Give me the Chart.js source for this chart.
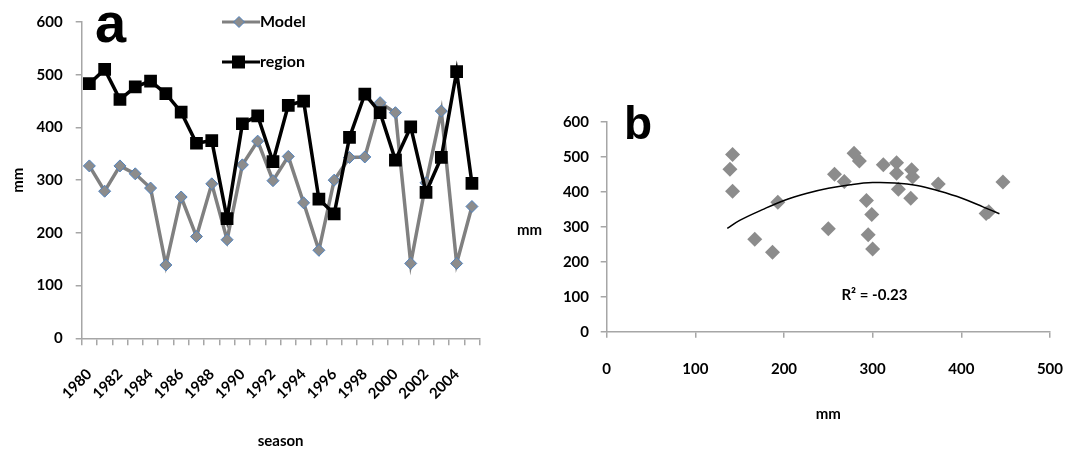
<!DOCTYPE html>
<html><head><meta charset="utf-8">
<script src="https://cdn.jsdelivr.net/npm/chart.js@4.4.1/dist/chart.umd.min.js"></script>
<style>
html,body{margin:0;padding:0;background:#fff;}
#wrap{position:relative;width:1085px;height:450px;overflow:hidden;}
#c1{position:absolute;left:0;top:0;}
#c2{position:absolute;left:505px;top:0;}
</style></head><body>
<div id="wrap"><canvas id="c1" width="505" height="450"></canvas><canvas id="c2" width="580" height="450"></canvas></div>
<script>
// ---- data ----
const years = ['1980','1981','1982','1983','1984','1985','1986','1987','1988','1989','1990','1991','1992','1993','1994','1995','1996','1997','1998','1999','2000','2001','2002','2003','2004','2005'];
const model = [327,279,327,312,285,139,268,193,293,187,329,374,299,345,257,167,300,343,344,447,428,142,295,431,142,250];
const region = [483,510,453,477,488,464,429,370,375,227,407,422,335,442,450,264,236,381,463,428,338,401,277,343,506,294];
const trendX = [136,150,175,200,225,250,275,300,325,350,375,400,425,443];
const trendY = [295,318,348,375,395,410,420,426,425,418,402,382,356,337];
const rSquaredText = 'R\u00B2 = -0.23';

const F = 'Lato, "Open Sans", "DejaVu Sans", sans-serif';
const AX = '#a6a6a6';
Chart.defaults.font.family = F;
Chart.defaults.color = '#000';

// ---- chart a ----
const leftDeco = {
  id: 'leftDeco',
  afterDraw(chart) {
    const ctx = chart.ctx;
    ctx.save();
    ctx.fillStyle = '#000';
    ctx.textAlign = 'left';
    ctx.textBaseline = 'alphabetic';
    ctx.font = 'bold 56px "Liberation Sans Narrow", "Liberation Sans", Arial, sans-serif';
    ctx.fillText('a', 95, 42);
    // legend
    const items = [
      {label: 'Model', y: 22, line: '#808080', fill: '#8c8c8c', stroke: '#4f81bd', style: 'diamond'},
      {label: 'region', y: 62, line: '#000', fill: '#000', stroke: '#000', style: 'square'}
    ];
    items.forEach(it => {
      ctx.strokeStyle = it.line;
      ctx.lineWidth = 3;
      ctx.beginPath();
      ctx.moveTo(222, it.y); ctx.lineTo(260, it.y);
      ctx.stroke();
      ctx.fillStyle = it.fill;
      ctx.strokeStyle = it.stroke;
      ctx.lineWidth = 1;
      ctx.beginPath();
      if (it.style === 'diamond') {
        const r = 5.5, cx = 239;
        ctx.moveTo(cx, it.y - r); ctx.lineTo(cx + r, it.y); ctx.lineTo(cx, it.y + r); ctx.lineTo(cx - r, it.y); ctx.closePath();
        ctx.fill(); ctx.stroke();
      } else {
        ctx.rect(232, it.y - 6.5, 13, 13);
        ctx.fill();
      }
      ctx.fillStyle = '#000';
      ctx.font = 'bold 16px ' + F;
      ctx.textBaseline = 'middle';
      ctx.fillText(it.label, 260, it.y);
      ctx.textBaseline = 'alphabetic';
    });
    ctx.restore();
  }
};

new Chart(document.getElementById('c1'), {
  type: 'line',
  data: {
    labels: years,
    datasets: [
      {label: 'Model', data: model, borderColor: '#808080', borderWidth: 3.5,
       pointStyle: 'rectRot', pointRadius: 6, pointBackgroundColor: '#8c8c8c',
       pointBorderColor: '#4f81bd', pointBorderWidth: 1, tension: 0, order: 1},
      {label: 'region', data: region, borderColor: '#000', borderWidth: 3.5,
       pointStyle: 'rect', pointRadius: 9, pointBackgroundColor: '#000',
       pointBorderColor: '#000', pointBorderWidth: 0, tension: 0, order: 0}
    ]
  },
  options: {
    responsive: false, animation: false,
    layout: {padding: {top: 20, right: 17.7, bottom: 0, left: 0}},
    plugins: {legend: {display: false}, tooltip: {enabled: false}},
    scales: {
      x: {
        offset: true,
        grid: {offset: true, drawOnChartArea: false, tickLength: 7, color: AX, lineWidth: 1.5},
        border: {color: AX, width: 1.5},
        ticks: {autoSkip: false, maxRotation: 45, minRotation: 45, padding: 20,
                font: {size: 15, weight: 'bold'}, color: '#000',
                callback: (v, i) => (i % 2 === 0 ? years[i] : '')},
        title: {display: true, text: 'season', font: {size: 15, weight: 'bold'}, color: '#000', padding: {top: 0, bottom: 0}},
        afterFit(s) { s.height = 111.7; }
      },
      y: {
        min: 0, max: 600,
        grid: {drawOnChartArea: false, tickLength: 6, color: AX, lineWidth: 1.5},
        border: {color: AX, width: 1.5},
        ticks: {stepSize: 100, padding: 13, font: {size: 15, weight: 'bold'}, color: '#000'},
        title: {display: true, text: 'mm', font: {size: 15, weight: 'bold'}, color: '#000', padding: {top: 9.5, bottom: 0}},
        afterFit(s) { s.width = 81.7; }
      }
    }
  },
  plugins: [leftDeco]
});

// ---- chart b ----
const rightDeco = {
  id: 'rightDeco',
  afterDraw(chart) {
    const ctx = chart.ctx;
    const xs = chart.scales.x, ys = chart.scales.y;
    ctx.save();
    ctx.fillStyle = '#000';
    ctx.textAlign = 'left';
    ctx.textBaseline = 'alphabetic';
    ctx.font = 'bold 46px "Liberation Sans Narrow", "Liberation Sans", Arial, sans-serif';
    ctx.fillText('b', 119, 139);
    ctx.font = 'bold 15px ' + F;
    ctx.textBaseline = 'middle';
    ctx.fillText('mm', 12, 230);
    ctx.textAlign = 'center';
    ctx.fillText(rSquaredText, xs.getPixelForValue(302), ys.getPixelForValue(105));
    ctx.restore();
  }
};

const scatterPts = model.map((m, i) => ({x: m, y: region[i]}));
const trendPts = trendX.map((x, i) => ({x: x, y: trendY[i]}));

new Chart(document.getElementById('c2'), {
  type: 'scatter',
  data: {
    datasets: [
      {label: 'pts', data: scatterPts, pointStyle: 'rectRot', pointRadius: 7.5,
       backgroundColor: '#8c8c8c', borderColor: '#8c8c8c', borderWidth: 0, order: 1},
      {label: 'trend', type: 'line', data: trendPts, showLine: true, borderColor: '#000',
       borderWidth: 1.5, pointRadius: 0, tension: 0.4, fill: false, order: 0}
    ]
  },
  options: {
    responsive: false, animation: false,
    layout: {padding: {top: 121.7, right: 15.7, bottom: 0, left: 0}},
    plugins: {legend: {display: false}, tooltip: {enabled: false}},
    scales: {
      x: {
        type: 'linear', min: 0, max: 500,
        grid: {drawOnChartArea: false, tickLength: 6, color: AX, lineWidth: 1.5},
        border: {color: AX, width: 1.5},
        ticks: {stepSize: 100, padding: 22, font: {size: 15, weight: 'bold'}, color: '#000'},
        title: {display: true, text: 'mm', font: {size: 15, weight: 'bold'}, color: '#000', padding: {top: 0, bottom: 27}},
        afterFit(s) { s.height = 118.3; }
      },
      y: {
        min: 0, max: 600,
        grid: {drawOnChartArea: false, tickLength: 6, color: AX, lineWidth: 1.5},
        border: {color: AX, width: 1.5},
        ticks: {stepSize: 100, padding: 11.7, font: {size: 15, weight: 'bold'}, color: '#000'},
        afterFit(s) { s.width = 101.7; }
      }
    }
  },
  plugins: [rightDeco]
});
</script>
</body></html>
